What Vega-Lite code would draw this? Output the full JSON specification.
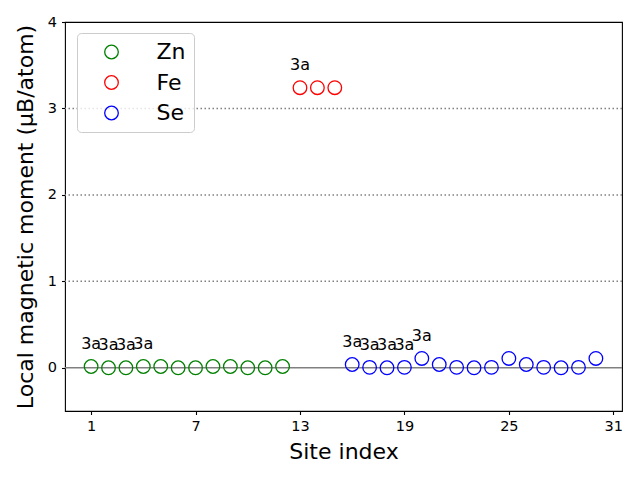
{
  "$schema": "https://vega.github.io/schema/vega-lite/v6.json",
  "width": 557,
  "height": 389,
  "autosize": {"type": "none"},
  "padding": {"left": 65, "top": 22, "right": 18, "bottom": 69},
  "background": "white",
  "config": {
    "font": "DejaVu Sans",
    "view": {"stroke": "black", "strokeWidth": 1.1},
    "axis": {
      "labelFont": "DejaVu Sans",
      "labelFontSize": 14.5,
      "labelColor": "black",
      "labelOverlap": false,
      "labelFlush": false,
      "titleFont": "DejaVu Sans",
      "titleFontSize": 22,
      "titleFontWeight": "normal",
      "titleColor": "black",
      "tickColor": "black",
      "tickSize": 3.5,
      "tickWidth": 1.1,
      "domain": false,
      "grid": false
    }
  },
  "datasets": {
    "sites": [
      {"site": 1, "element": "Zn", "moment": 0.015, "label": "3a"},
      {"site": 2, "element": "Zn", "moment": 0.0, "label": "3a"},
      {"site": 3, "element": "Zn", "moment": 0.0, "label": "3a"},
      {"site": 4, "element": "Zn", "moment": 0.015, "label": "3a"},
      {"site": 5, "element": "Zn", "moment": 0.015, "label": ""},
      {"site": 6, "element": "Zn", "moment": 0.0, "label": ""},
      {"site": 7, "element": "Zn", "moment": 0.0, "label": ""},
      {"site": 8, "element": "Zn", "moment": 0.015, "label": ""},
      {"site": 9, "element": "Zn", "moment": 0.015, "label": ""},
      {"site": 10, "element": "Zn", "moment": 0.0, "label": ""},
      {"site": 11, "element": "Zn", "moment": 0.0, "label": ""},
      {"site": 12, "element": "Zn", "moment": 0.015, "label": ""},
      {"site": 13, "element": "Fe", "moment": 3.24, "label": "3a"},
      {"site": 14, "element": "Fe", "moment": 3.24, "label": ""},
      {"site": 15, "element": "Fe", "moment": 3.24, "label": ""},
      {"site": 16, "element": "Se", "moment": 0.038, "label": "3a"},
      {"site": 17, "element": "Se", "moment": 0.005, "label": "3a"},
      {"site": 18, "element": "Se", "moment": 0.0, "label": "3a"},
      {"site": 19, "element": "Se", "moment": 0.005, "label": "3a"},
      {"site": 20, "element": "Se", "moment": 0.108, "label": "3a"},
      {"site": 21, "element": "Se", "moment": 0.038, "label": ""},
      {"site": 22, "element": "Se", "moment": 0.005, "label": ""},
      {"site": 23, "element": "Se", "moment": 0.0, "label": ""},
      {"site": 24, "element": "Se", "moment": 0.005, "label": ""},
      {"site": 25, "element": "Se", "moment": 0.108, "label": ""},
      {"site": 26, "element": "Se", "moment": 0.038, "label": ""},
      {"site": 27, "element": "Se", "moment": 0.005, "label": ""},
      {"site": 28, "element": "Se", "moment": 0.0, "label": ""},
      {"site": 29, "element": "Se", "moment": 0.005, "label": ""},
      {"site": 30, "element": "Se", "moment": 0.108, "label": ""}
    ],
    "dotted": [{"moment": 1}, {"moment": 2}, {"moment": 3}],
    "zero": [{"moment": 0}]
  },
  "encoding": {
    "y": {
      "field": "moment",
      "type": "quantitative",
      "scale": {"domain": [-0.5, 4], "nice": false, "zero": false},
      "axis": {"values": [0, 1, 2, 3, 4], "title": "Local magnetic moment (μB/atom)", "labelPadding": 5, "titlePadding": 10}
    }
  },
  "layer": [
    {
      "data": {"name": "dotted"},
      "mark": {"type": "rule", "color": "#808080", "strokeWidth": 1.5, "strokeDash": [1.5, 2.5]}
    },
    {
      "data": {"name": "zero"},
      "mark": {"type": "rule", "color": "#808080", "strokeWidth": 1.6}
    },
    {
      "data": {"name": "sites"},
      "encoding": {
        "x": {
          "field": "site",
          "type": "quantitative",
          "scale": {"domain": [-0.5, 31.5], "nice": false, "zero": false},
          "axis": {"values": [1, 7, 13, 19, 25, 31], "title": "Site index", "labelPadding": 5, "titlePadding": 8, "labelOverlap": false, "labelFlush": false}
        }
      },
      "layer": [
        {
          "mark": {"type": "point", "shape": "circle", "filled": false, "size": 185, "strokeWidth": 1.3, "opacity": 1},
          "encoding": {
            "color": {
              "field": "element",
              "type": "nominal",
              "scale": {"domain": ["Zn", "Fe", "Se"], "range": ["#008000", "#ff0000", "#0000ff"]},
              "legend": {
                "title": null,
                "orient": "none",
                "legendX": 12,
                "legendY": 11,
                "padding": 8,
                "symbolOffset": 15.5,
                "labelOffset": 34,
                "rowPadding": 8.5,
                "symbolType": "circle",
                "symbolSize": 185,
                "symbolStrokeWidth": 1.3,
                "symbolFillColor": "transparent",
                "labelFont": "DejaVu Sans",
                "labelFontSize": 22,
                "labelColor": "black",
                "strokeColor": "#cccccc",
                "fillColor": "rgba(255,255,255,0.8)",
                "cornerRadius": 4
              }
            }
          }
        },
        {
          "transform": [{"filter": "datum.label != ''"}],
          "mark": {"type": "text", "dy": -17.3, "baseline": "alphabetic", "align": "center", "fontSize": 16, "color": "black", "font": "DejaVu Sans"},
          "encoding": {"text": {"field": "label"}}
        }
      ]
    }
  ]
}
